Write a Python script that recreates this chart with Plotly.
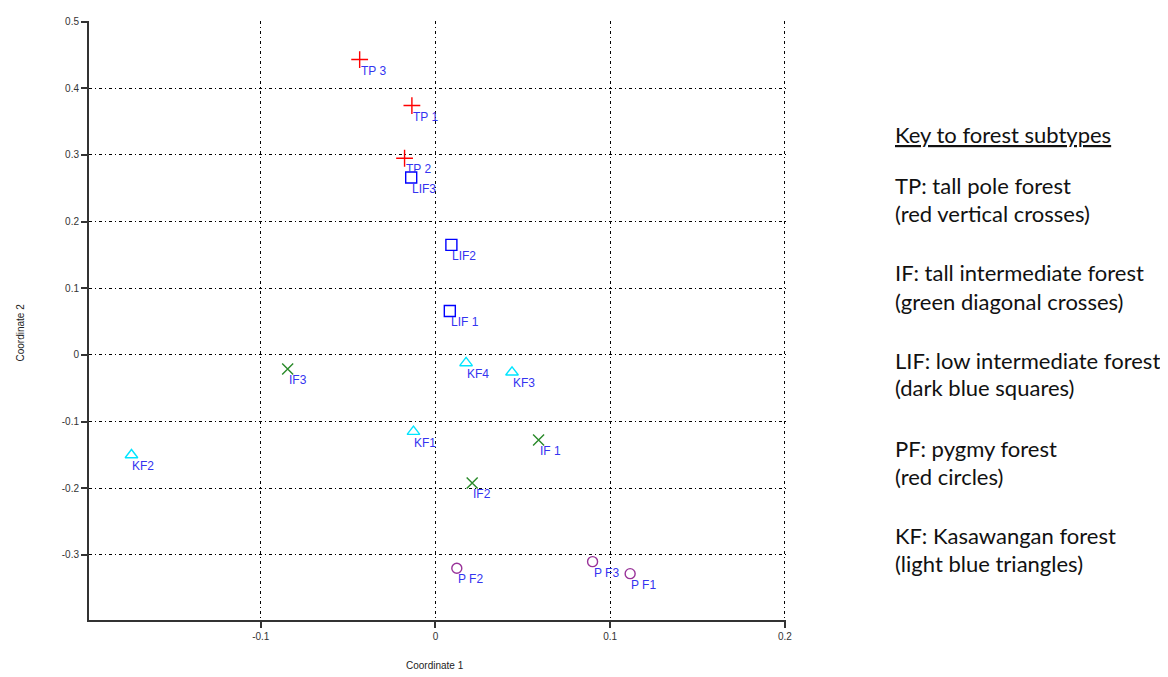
import plotly.graph_objects as go

# ---- data ----
tp_x = [-0.0434, -0.0135, -0.0177]
tp_y = [0.443, 0.374, 0.295]
tp_lab = ["TP 3", "TP 1", "TP 2"]

lif_x = [-0.0139, 0.0091, 0.0082]
lif_y = [0.266, 0.165, 0.066]
lif_lab = ["LIF3", "LIF2", "LIF 1"]

if_x = [-0.0846, 0.0590, 0.0210]
if_y = [-0.021, -0.1275, -0.192]
if_lab = ["IF3", "IF 1", "IF2"]

kf_x = [-0.174, 0.0175, 0.0438, -0.0126]
kf_y = [-0.150, -0.012, -0.026, -0.115]
kf_lab = ["KF2", "KF4", "KF3", "KF1"]

pf_x = [0.0122, 0.0899, 0.1114]
pf_y = [-0.320, -0.310, -0.328]
pf_lab = ["P F2", "P F3", "P F1"]

x_ticks = [-0.1, 0, 0.1, 0.2]
x_tick_text = ["-0.1", "0", "0.1", "0.2"]
y_ticks = [-0.3, -0.2, -0.1, 0, 0.1, 0.2, 0.3, 0.4, 0.5]
y_tick_text = ["-0.3", "-0.2", "-0.1", "0", "0.1", "0.2", "0.3", "0.4", "0.5"]

key_title = "Key to forest subtypes"
key_lines = [
    "TP: tall pole forest", "(red vertical crosses)",
    "IF: tall intermediate forest", "(green diagonal crosses)",
    "LIF: low intermediate forest", "(dark blue squares)",
    "PF: pygmy forest", "(red circles)",
    "KF: Kasawangan forest", "(light blue triangles)",
]

groups = [
    (tp_x, tp_y, tp_lab, "cross-thin-open", "#ff0000", 12),
    (if_x, if_y, if_lab, "x-thin-open", "#2a8a2a", 11),
    (lif_x, lif_y, lif_lab, "square-open", "#0000ff", 11),
    (kf_x, kf_y, kf_lab, "triangle-up-open", "#00e5ff", 11),
    (pf_x, pf_y, pf_lab, "circle-open", "#993399", 10),
]

# page body has an 8px margin; compensate so the plot lands where the reference has it
OFF = 8
W, H = 1168 - OFF, 677 - OFF
L, T = 89 - OFF, 16 - OFF
PW, PH = 786 - 89, 620 - 16
R, B = W - L - PW, H - T - PH

def px_to_paper(xp, yp):
    return (xp - OFF - L) / PW, 1 - (yp - OFF - T) / PH

fig = go.Figure()
annotations = []
for xs, ys, labs, sym, col, sz in groups:
    fig.add_trace(go.Scatter(
        x=xs, y=ys, mode="markers",
        marker=dict(symbol=sym, size=sz, color=col, line=dict(color=col, width=1.4)),
        showlegend=False, hoverinfo="skip",
    ))
    for x, y, t in zip(xs, ys, labs):
        annotations.append(dict(
            x=x, y=y, xref="x", yref="y", text=t, showarrow=False,
            xanchor="left", yanchor="top", xshift=-1, yshift=-2,
            font=dict(family="Arial, Liberation Sans", size=12, color="#3434f0"),
        ))

# axis titles
annotations.append(dict(
    x=0, y=0, xref="x", yref="paper", text="Coordinate 1", showarrow=False,
    xanchor="center", yanchor="middle", yshift=-45,
    font=dict(family="Arial, Liberation Sans", size=10, color="#222"),
))
annotations.append(dict(
    x=0, y=0.5, xref="paper", yref="paper", text="Coordinate 2", showarrow=False,
    xanchor="center", yanchor="middle", xshift=-69, yshift=-12, textangle=-90,
    font=dict(family="Arial, Liberation Sans", size=10, color="#222"),
))

# key text
key_font = dict(family="Lato, Open Sans", size=22, color="#111")
kx, ky = px_to_paper(893, 130)
annotations.append(dict(
    x=kx, y=ky, xref="paper", yref="paper", text="<u>" + key_title + "</u>",
    showarrow=False, xanchor="left", yanchor="middle", font=key_font,
))
ys_key = [182, 210, 270, 299, 358, 386, 447, 475, 535, 563]
for t, yy in zip(key_lines, ys_key):
    kx, ky = px_to_paper(893, yy)
    annotations.append(dict(
        x=kx, y=ky, xref="paper", yref="paper", text=t,
        showarrow=False, xanchor="left", yanchor="middle", font=key_font,
    ))

grid = dict(showgrid=True, gridcolor="#000000", gridwidth=1, griddash="3px,3px,1px,3px")
axis_common = dict(showline=True, linecolor="#333", linewidth=2, ticks="outside",
                   ticklen=6, tickcolor="#333", tickwidth=2, zeroline=False,
                   tickfont=dict(family="Arial, Liberation Sans", size=10, color="#333"))
fig.update_layout(
    width=W, height=H,
    margin=dict(l=L, r=R, t=T, b=B),
    paper_bgcolor="white", plot_bgcolor="white",
    annotations=annotations,
    xaxis=dict(range=[-0.1983, 0.2006], tickvals=x_ticks, ticktext=x_tick_text,
               **axis_common, **grid),
    yaxis=dict(range=[-0.3975, 0.5008], tickvals=y_ticks, ticktext=y_tick_text,
               **axis_common, **grid),
)

fig.write_html("out.html")
